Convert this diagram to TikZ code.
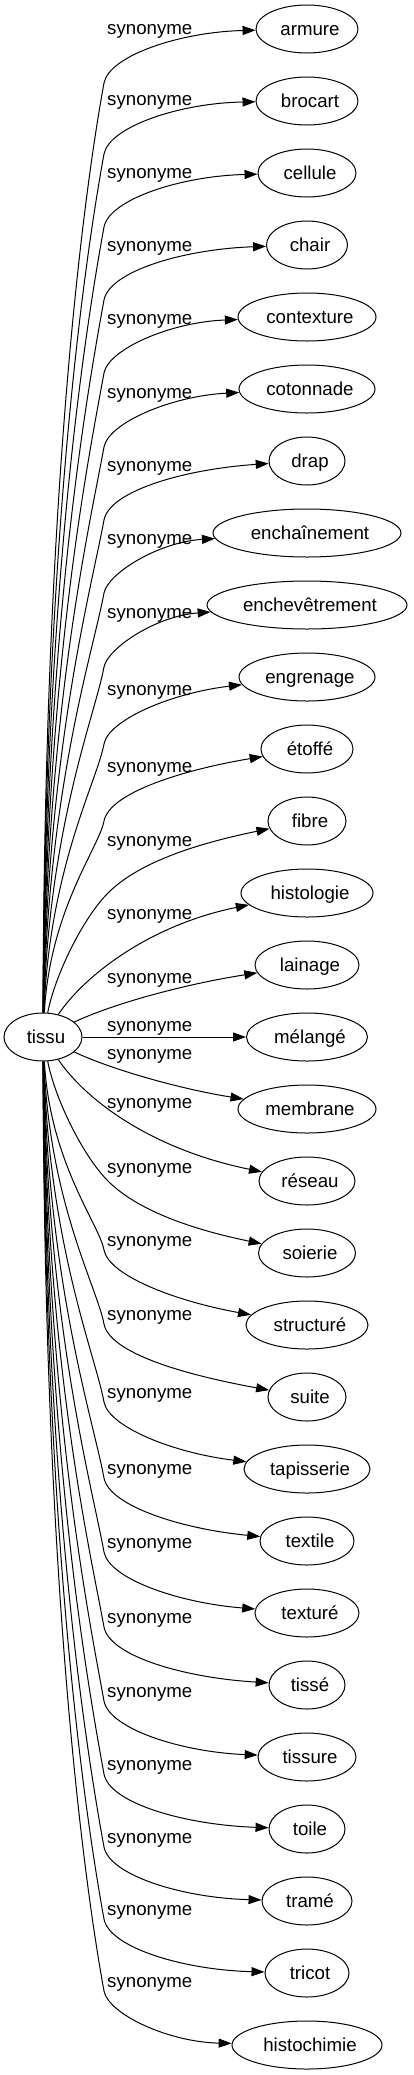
\documentclass[tikz,border=0pt]{standalone}
\usepackage{fontspec}
\setmainfont{Liberation Sans}
\usetikzlibrary{shapes.geometric,arrows.meta}
\begin{document}
\begin{tikzpicture}[x=1pt,y=-1pt,
  every node/.style={font=\fontsize{18.67}{22}\selectfont},
  bub/.style={draw, ellipse, line width=1pt, minimum height=48pt, inner sep=0pt,
    text height=14pt, text depth=2pt, execute at begin node=\hspace*{6pt}},
  lbl/.style={anchor=base west, inner sep=0pt},
  syn/.style={line width=1pt, -{Triangle[length=13pt,width=9pt]}}]
\fill[white] (0,0) rectangle (413,2075);
\node[bub, minimum width=78pt] (tissu) at (43,1037) {tissu};
% target nodes
\foreach \k/\w/\r in {0/armure/51, 1/brocart/51, 2/cellule/49, 3/chair/40.5,
  4/contexture/69, 5/cotonnade/68, 6/drap/38, 7/enchaînement/94,
  8/enchevêtrement/100, 9/engrenage/68, 10/étoffé/46, 11/fibre/39,
  12/histologie/66, 13/lainage/52, 14/mélangé/60.5, 15/membrane/69,
  16/réseau/48, 17/soierie/48.5, 18/structuré/61, 19/suite/39,
  20/tapisserie/63, 21/textile/47, 22/texturé/52, 23/tissé/38,
  24/tissure/49, 25/toile/38, 26/tramé/45, 27/tricot/42, 28/histochimie/75} {
  \pgfmathsetmacro\qMw{2*\r}
  \node[bub, minimum width=\qMw pt] (n\k) at (307,29+72*\k) {\w};
}
% edge labels
\foreach \l [count=\i from 0] in {29,100,173,246,319,393,466,539,613,690,767,841,
  914,978,1026,1054,1103,1168,1241,1315,1393,1469,1543,1618,1692,1765,1838,1910,1982} {
  \node[lbl] (l\i) at (107,\l+5) {synonyme};
}
% upper edges
\foreach \k/\l/\r in {0/29/51, 1/100/51, 2/173/49, 3/246/40.5, 4/319/69, 5/393/68,
  6/466/38, 7/539/94, 8/613/100, 9/690/68, 10/767/46} {
  \pgfmathsetmacro\qBy{\l+54}
  \pgfmathsetmacro\qLen{1013-\qBy}
  \pgfmathsetmacro\qAx{44+0.6*\k}
  \pgfmathsetmacro\qAy{1013-0.54*\qLen}
  \pgfmathsetmacro\qBx{104-0.025*\qLen}
  \pgfmathsetmacro\qBby{\qBy+0.137*\qLen}
  \pgfmathsetmacro\qD{307-\r-104}
  \pgfmathsetmacro\qCx{104+0.035*\qD}
  \pgfmathsetmacro\qCy{\qBy-0.18*\qD}
  \pgfmathsetmacro\qEx{307-\r-0.5*\qD}
  \pgfmathsetmacro\qEy{\l+3}
  \draw[syn] (tissu) .. controls (\qAx,\qAy) and (\qBx,\qBby) .. (104,\qBy)
    .. controls (\qCx,\qCy) and (\qEx,\qEy) .. (n\k);
}
% lower edges
\foreach \k/\l/\r in {18/1241/61, 19/1315/39, 20/1393/63, 21/1469/47, 22/1543/52,
  23/1618/38, 24/1692/49, 25/1765/38, 26/1838/45, 27/1910/42, 28/1982/75} {
  \pgfmathsetmacro\qBy{\l+9}
  \pgfmathsetmacro\qLen{\qBy-1061}
  \pgfmathsetmacro\qAx{44+0.6*(28-\k)}
  \pgfmathsetmacro\qAy{1061+0.54*\qLen}
  \pgfmathsetmacro\qBx{104-0.025*\qLen}
  \pgfmathsetmacro\qBby{\qBy-0.137*\qLen}
  \pgfmathsetmacro\qD{307-\r-104}
  \pgfmathsetmacro\qCx{104+0.035*\qD}
  \pgfmathsetmacro\qCy{\qBy+0.18*\qD}
  \pgfmathsetmacro\qEx{307-\r-0.5*\qD}
  \pgfmathsetmacro\qEy{\l+60}
  \draw[syn] (tissu) .. controls (\qAx,\qAy) and (\qBx,\qBby) .. (104,\qBy)
    .. controls (\qCx,\qCy) and (\qEx,\qEy) .. (n\k);
}
% middle edges
\draw[syn] (tissu) .. controls (55,975) and (83,918) .. (108,893)
  .. controls (135,866) and (185,846) .. (n11);
\draw[syn] (tissu) .. controls (85,975) and (150,925) .. (n12);
\draw[syn] (tissu) .. controls (110,1005) and (180,985) .. (n13);
\draw[syn] (tissu) -- (n14);
\draw[syn] (tissu) .. controls (110,1069) and (180,1089) .. (n15);
\draw[syn] (tissu) .. controls (85,1099) and (150,1149) .. (n16);
\draw[syn] (tissu) .. controls (55,1099) and (83,1156) .. (108,1181)
  .. controls (135,1208) and (185,1228) .. (n17);
\end{tikzpicture}
\end{document}
